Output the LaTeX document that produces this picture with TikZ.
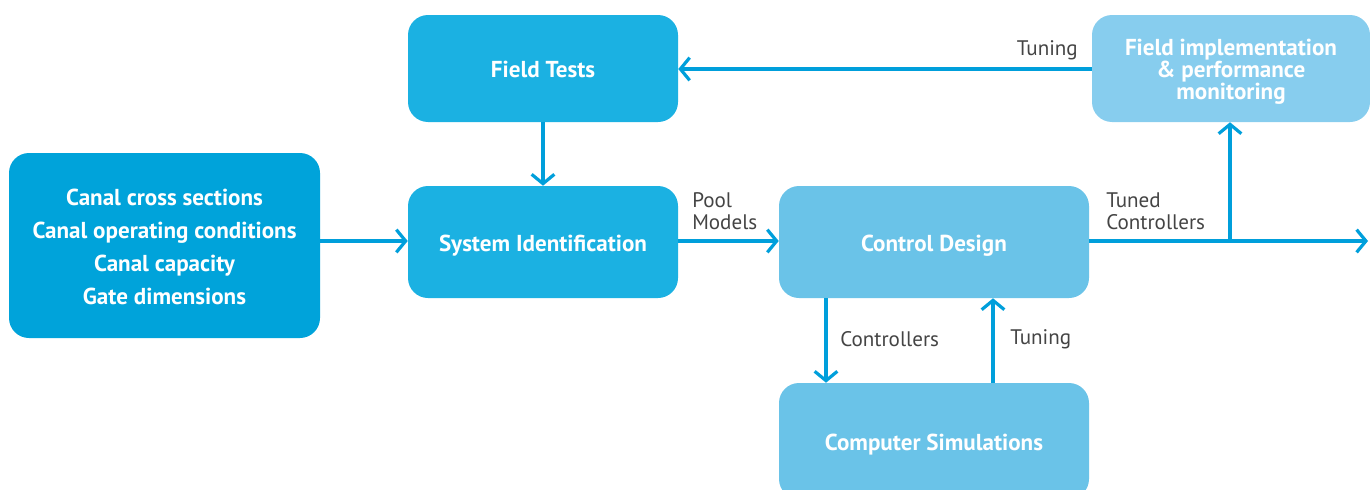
\documentclass[tikz,border=0pt]{standalone}
\usepackage{fontspec}
\setmainfont{PT Sans}
\usetikzlibrary{arrows.meta}
\definecolor{boxdark}{HTML}{00A3DA}
\definecolor{boxmid}{HTML}{1BB1E2}
\definecolor{boxlight}{HTML}{6AC3E8}
\definecolor{boxpale}{HTML}{87CDEE}
\definecolor{flow}{HTML}{009FDB}
\definecolor{labelgray}{HTML}{444444}
\tikzset{
  block/.style={rounded corners=15pt, text=white, font=\fontsize{17.3}{24.75}\selectfont\bfseries,
    align=center, inner sep=0pt},
  oneline/.style={block, text height=17.5pt, text depth=4pt},
  link/.style={draw=flow, line width=2.4pt, -{Straight Barb[length=7pt, width=17pt, line width=2.4pt]}},
  tag/.style={text=labelgray, font=\fontsize{15.8}{16.5}\selectfont, inner sep=0pt}
}
\begin{document}
\begin{tikzpicture}[x=0.75pt, y=-0.75pt]
\useasboundingbox (0,0) rectangle (1370,489);
\clip (0,0) rectangle (1370,489);

% boxes
\node[block, fill=boxdark, minimum width=311*0.75pt, minimum height=185*0.75pt] (inputs) at (164.5,245.5)
  {\rule{0pt}{15pt}Canal cross sections\\Canal operating conditions\\Canal capacity\\Gate dimensions};
\node[oneline, fill=boxmid, minimum width=270*0.75pt, minimum height=107*0.75pt] (field) at (543,68.5) {Field Tests};
\node[oneline, fill=boxmid, minimum width=270*0.75pt, minimum height=112*0.75pt] (sysid) at (543,242) {System Identification};
\node[oneline, fill=boxlight, minimum width=310*0.75pt, minimum height=112*0.75pt] (ctrl) at (934,242) {Control Design};
\node[oneline, fill=boxlight, minimum width=310*0.75pt, minimum height=116*0.75pt] (sim) at (934,441) {Computer Simulations};
\node[block, fill=boxpale, minimum width=278*0.75pt, minimum height=107*0.75pt, font=\fontsize{17.3}{16.5}\selectfont\bfseries] (impl) at (1231,68.5)
  {\rule{0pt}{17pt}Field implementation\\\& performance\\monitoring};

% junction points
\coordinate (out) at (1368,241);
\coordinate (split) at (1230,241);

% connectors
\draw[link] (inputs.east |- 0,241) -- (sysid.west |- 0,241);
\draw[link] (field.south) -- (sysid.north);
\draw[link] (sysid.east |- 0,241) -- (ctrl.west |- 0,241);
\draw[link] (ctrl.east |- 0,241) -- (out);
\draw[link] (split) -- (split |- impl.south);
\draw[link] (impl.west |- 0,69) -- (field.east |- 0,69);
\draw[link] (ctrl.south -| 826,0) -- (sim.north -| 826,0);
\draw[link] (sim.north -| 993,0) -- (ctrl.south -| 993,0);

% labels
\node[tag, anchor=west, align=left] (lpool) at (692,211) {Pool\\Models};
\node[tag, anchor=west, align=left] (ltuned) at (1106,211) {Tuned\\Controllers};
\node[tag, anchor=east] (ltune1) at (1078,50) {Tuning};
\node[tag, anchor=west] (lctrl) at (840,339) {Controllers};
\node[tag, anchor=west] (ltune2) at (1010,339) {Tuning};
\end{tikzpicture}
\end{document}
